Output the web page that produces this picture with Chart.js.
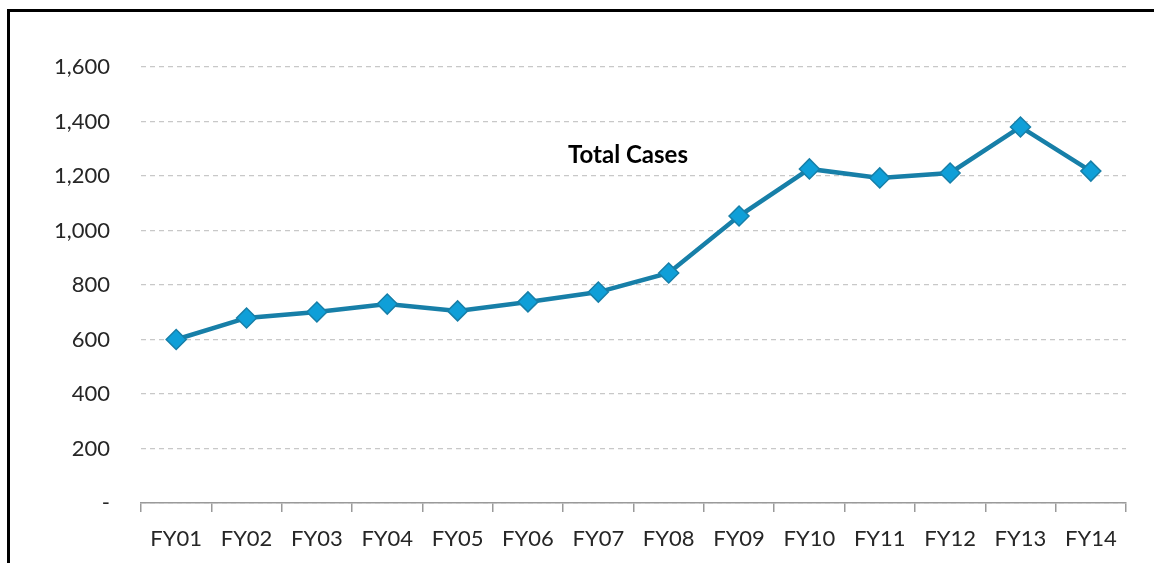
<!DOCTYPE html>
<html>
<head>
<meta charset="utf-8">
<script src="https://cdn.jsdelivr.net/npm/chart.js@4/dist/chart.umd.min.js"></script>
<style>
  body { margin: 0; background: #fff; overflow: hidden; }
  #frame { position: absolute; left: 7px; top: 9px; width: 1200px; height: 700px; border-left: 3px solid #000; border-top: 3px solid #000; }
  #myChart { position: absolute; left: 0; top: 0; }
</style>
</head>
<body>
<div id="frame"></div>
<canvas id="myChart" width="1154" height="563"></canvas>
<script>
var labels = ['FY01', 'FY02', 'FY03', 'FY04', 'FY05', 'FY06', 'FY07', 'FY08', 'FY09', 'FY10', 'FY11', 'FY12', 'FY13', 'FY14']
var totalCases = [600, 679, 701, 730, 705, 738, 774, 844, 1053, 1226, 1193, 1211, 1380, 1218]
var seriesName = 'Total Cases'

// draws the series name inside the plot like the original
var inlineTitle = {
    id: 'inlineTitle',
    afterDraw: function(chart) {
        var ctx = chart.ctx
        ctx.save()
        ctx.font = 'bold 24px Lato'
        ctx.fillStyle = '#000'
        ctx.textAlign = 'center'
        ctx.textBaseline = 'middle'
        ctx.fillText(seriesName, chart.chartArea.left + 487, chart.scales.y.getPixelForValue(1275))
        ctx.restore()
    }
}

var ctx = document.getElementById('myChart').getContext('2d');
var myChart = new Chart(ctx, {
    type: 'line',
    data: {
        labels: labels,
        datasets: [{
            label: seriesName,
            data: totalCases,
            fill: false,
            tension: 0,
            borderColor: '#177fa8',
            borderWidth: 4.5,
            pointStyle: 'rectRot',
            pointRadius: 10,
            pointHoverRadius: 10,
            pointBackgroundColor: '#0f9fd8',
            pointBorderColor: '#177fa8',
            pointBorderWidth: 1.5
        }]
    },
    plugins: [inlineTitle],
    options: {
        responsive: false,
        animation: false,
        layout: { padding: { left: 0, right: 28, top: 67, bottom: 0 } },
        plugins: {
            legend: { display: false },
            tooltip: { enabled: false }
        },
        scales: {
            x: {
                offset: true,
                afterFit: function(scale) { scale.height = 60 },
                grid: { offset: true, drawOnChartArea: false, drawTicks: true, tickLength: 9, color: '#9a9a9a', lineWidth: 1.5 },
                border: { display: true, color: '#9a9a9a', width: 1.5 },
                ticks: { color: '#262626', padding: 14, font: { family: 'Lato', size: 22 }, maxRotation: 0 }
            },
            y: {
                min: 0,
                max: 1600,
                afterFit: function(scale) { scale.width = 141 },
                grid: { drawTicks: false, color: '#c8c8c8', lineWidth: 1.2 },
                border: { display: false, dash: [5, 4] },
                ticks: {
                    stepSize: 200,
                    color: '#262626',
                    padding: 31,
                    font: { family: 'Lato', size: 22 },
                    callback: function(value) {
                        return value === 0 ? '-' : value.toLocaleString('en-US')
                    }
                }
            }
        }
    }
});
</script>
</body>
</html>
